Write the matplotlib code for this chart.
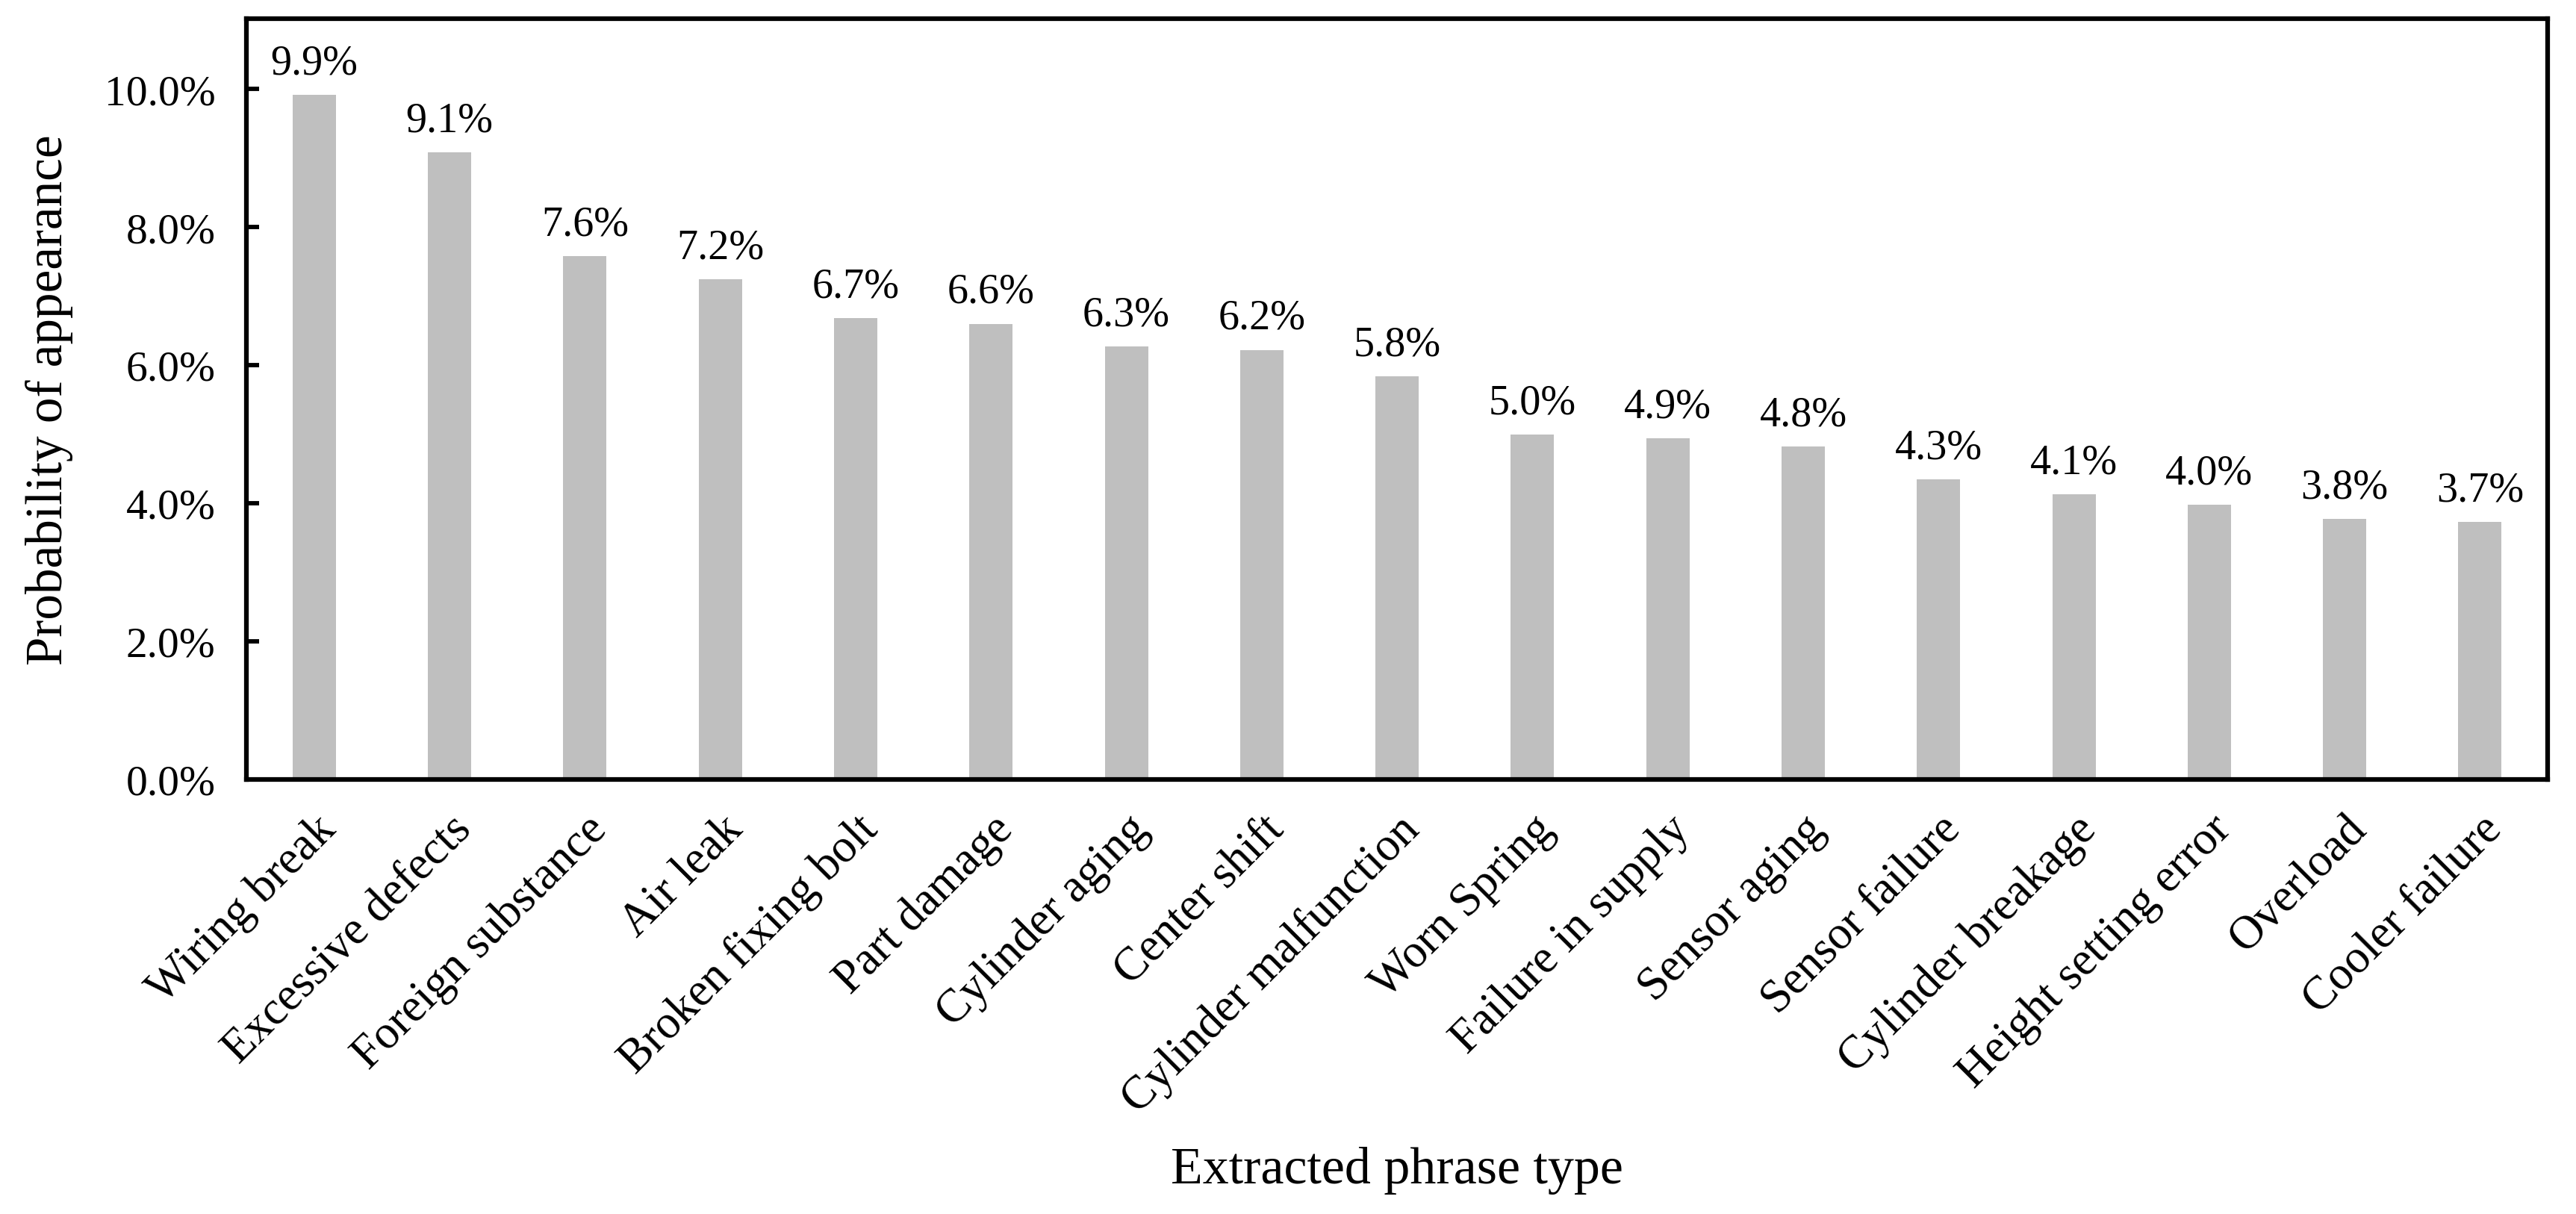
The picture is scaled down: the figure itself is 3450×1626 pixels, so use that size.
import numpy as np
import matplotlib

matplotlib.use('Agg')
import matplotlib.pyplot as plt
from matplotlib.ticker import FuncFormatter

plt.rcParams['font.family'] = ['Liberation Serif', 'DejaVu Serif']

phrases = ['Wiring break', 'Excessive defects', 'Foreign substance', 'Air leak',
           'Broken fixing bolt', 'Part damage', 'Cylinder aging', 'Center shift',
           'Cylinder malfunction', 'Worn Spring', 'Failure in supply', 'Sensor aging',
           'Sensor failure', 'Cylinder breakage', 'Height setting error', 'Overload',
           'Cooler failure']
probs = [9.92, 9.08, 7.58, 7.24, 6.68, 6.60, 6.27, 6.22, 5.84, 4.99, 4.94, 4.82,
         4.34, 4.13, 3.98, 3.77, 3.73]

fig = plt.figure(figsize=(11.5, 5.4233), dpi=300)
ax = fig.add_axes([0.0957, 0.358, 0.8933, 0.626])

x = np.arange(len(phrases))
bars = ax.bar(x, probs, width=0.32, color='#bfbfbf')

for b, v in zip(bars, probs):
    ax.annotate(f'{v:.1f}%', (b.get_x() + b.get_width() / 2, v),
                xytext=(0, 4), textcoords='offset points',
                ha='center', va='bottom', fontsize=13.5)

ax.set_xlim(-0.5, len(phrases) - 0.5)
ax.set_ylim(0, 11.02)
ax.set_yticks(np.arange(0, 11, 2))
ax.yaxis.set_major_formatter(FuncFormatter(lambda v, p: f'{v:.1f}%'))
ax.set_xticks(x)
ax.set_xticklabels(phrases, rotation=45, ha='right', rotation_mode='anchor', fontsize=15)
ax.tick_params(axis='y', direction='in', length=4, width=1.4, labelsize=13.8, pad=10)
ax.tick_params(axis='x', length=0, pad=9)
for s in ax.spines.values():
    s.set_linewidth(1.5)

ax.set_ylabel('Probability of appearance', fontsize=16.6, labelpad=10)
ax.set_xlabel('Extracted phrase type', fontsize=16.8, labelpad=8)

plt.savefig('out.png', dpi=300)
